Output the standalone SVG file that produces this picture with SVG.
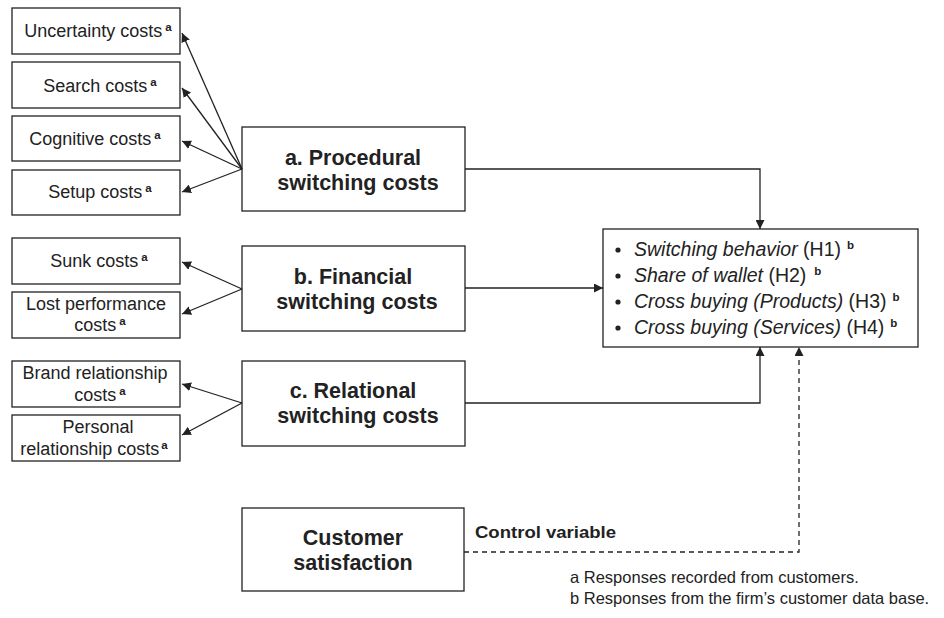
<svg xmlns="http://www.w3.org/2000/svg" width="944" height="618" viewBox="0 0 944 618">
<style>
.box{fill:#fff;stroke:#222;stroke-width:1.3}
.t{font-family:"Liberation Sans",Arial,sans-serif;font-size:18px;fill:#222;text-anchor:middle}
.b{font-family:"Liberation Sans",Arial,sans-serif;font-size:21.5px;font-weight:bold;fill:#222;text-anchor:middle}
.o{font-family:"Liberation Sans",Arial,sans-serif;font-size:19.5px;fill:#222}
.sup{font-size:11.5px;font-weight:bold}
.ctl{font-family:"Liberation Sans",Arial,sans-serif;font-size:16px;font-weight:bold;fill:#222}
.fn{font-family:"Liberation Sans",Arial,sans-serif;font-size:16.5px;fill:#222}
.ln{fill:none;stroke:#222;stroke-width:1.3}
.dash{fill:none;stroke:#222;stroke-width:1.3;stroke-dasharray:5,4}
</style>
<defs>
<marker id="ah" viewBox="0 0 10 10" refX="10" refY="5" markerWidth="9" markerHeight="9" markerUnits="userSpaceOnUse" orient="auto">
<path d="M0,0 L10,5 L0,10 z" fill="#222"/>
</marker>
</defs>

<g id="uncertainty"><rect class="box" x="12" y="8" width="168" height="46"/><text class="t" x="98" y="37">Uncertainty costs<tspan class="sup" dx="3" dy="-6">a</tspan></text></g>
<g id="search"><rect class="box" x="12" y="62" width="168" height="46"/><text class="t" x="100" y="92">Search costs<tspan class="sup" dx="3" dy="-6">a</tspan></text></g>
<g id="cognitive"><rect class="box" x="12" y="116" width="168" height="45"/><text class="t" x="95" y="145">Cognitive costs<tspan class="sup" dx="3" dy="-6">a</tspan></text></g>
<g id="setup"><rect class="box" x="12" y="170" width="168" height="45"/><text class="t" x="100" y="198">Setup costs<tspan class="sup" dx="3" dy="-6">a</tspan></text></g>

<g id="sunk"><rect class="box" x="12" y="238" width="168" height="46"/><text class="t" x="99" y="267">Sunk costs<tspan class="sup" dx="3" dy="-6">a</tspan></text></g>
<g id="lost"><rect class="box" x="12" y="292" width="168" height="46"/><text class="t" x="96" y="310">Lost performance</text><text class="t" x="100" y="331">costs<tspan class="sup" dx="3" dy="-6">a</tspan></text></g>

<g id="brand"><rect class="box" x="12" y="361" width="168" height="46"/><text class="t" x="95" y="379">Brand relationship</text><text class="t" x="100" y="401">costs<tspan class="sup" dx="3" dy="-6">a</tspan></text></g>
<g id="personal"><rect class="box" x="12" y="415" width="168" height="46"/><text class="t" x="98" y="433">Personal</text><text class="t" x="94" y="455">relationship costs<tspan class="sup" dx="2" dy="-6">a</tspan></text></g>

<g id="procedural"><rect class="box" x="242" y="127" width="223" height="84"/><text class="b" x="353" y="165">a. Procedural</text><text class="b" x="358" y="190">switching costs</text></g>
<g id="financial"><rect class="box" x="242" y="246" width="223" height="85"/><text class="b" x="353" y="284">b. Financial</text><text class="b" x="357" y="309">switching costs</text></g>
<g id="relational"><rect class="box" x="242" y="361" width="223" height="85"/><text class="b" x="353" y="398">c. Relational</text><text class="b" x="358" y="423">switching costs</text></g>
<g id="satisfaction"><rect class="box" x="242" y="508" width="222" height="83"/><text class="b" x="353" y="545">Customer</text><text class="b" x="353" y="570">satisfaction</text></g>

<g id="outcomes"><rect class="box" x="603" y="229" width="315" height="118"/>
<g fill="#222"><circle cx="618" cy="250" r="2.6"/><circle cx="618" cy="276" r="2.6"/><circle cx="618" cy="302" r="2.6"/><circle cx="618" cy="328" r="2.6"/></g>
<text class="o" x="634" y="256"><tspan font-style="italic">Switching behavior</tspan> (H1)<tspan class="sup" dx="6" dy="-7">b</tspan></text>
<text class="o" x="634" y="282"><tspan font-style="italic">Share of wallet</tspan> (H2)<tspan class="sup" dx="8" dy="-7">b</tspan></text>
<text class="o" x="634" y="308"><tspan font-style="italic">Cross buying (Products)</tspan> (H3)<tspan class="sup" dx="6" dy="-7">b</tspan></text>
<text class="o" x="634" y="334"><tspan font-style="italic">Cross buying (Services)</tspan> (H4)<tspan class="sup" dx="6" dy="-7">b</tspan></text>
</g>

<g id="connectors">
<line class="ln" x1="242" y1="169" x2="182" y2="33" marker-end="url(#ah)"/>
<line class="ln" x1="242" y1="169" x2="182" y2="88" marker-end="url(#ah)"/>
<line class="ln" x1="242" y1="169" x2="182" y2="141" marker-end="url(#ah)"/>
<line class="ln" x1="242" y1="169" x2="182" y2="192" marker-end="url(#ah)"/>
<line class="ln" x1="242" y1="289" x2="182" y2="262" marker-end="url(#ah)"/>
<line class="ln" x1="242" y1="289" x2="182" y2="314" marker-end="url(#ah)"/>
<line class="ln" x1="242" y1="403" x2="182" y2="384" marker-end="url(#ah)"/>
<line class="ln" x1="242" y1="403" x2="182" y2="435" marker-end="url(#ah)"/>
<polyline class="ln" points="465,169 760,169 760,229" marker-end="url(#ah)"/>
<line class="ln" x1="465" y1="288" x2="603" y2="288" marker-end="url(#ah)"/>
<polyline class="ln" points="465,403 760,403 760,347" marker-end="url(#ah)"/>
<polyline class="dash" points="464,552 799,552 799,347" marker-end="url(#ah)"/>
<text class="ctl" x="475" y="538" textLength="141" lengthAdjust="spacingAndGlyphs">Control variable</text>
</g>

<g id="footnotes">
<text class="fn" x="570" y="583">a Responses recorded from customers.</text>
<text class="fn" x="570" y="604">b Responses from the firm’s customer data base.</text>
</g>
</svg>
